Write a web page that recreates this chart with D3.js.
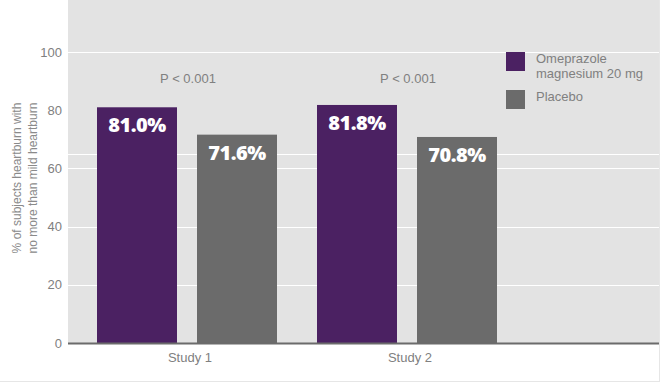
<!DOCTYPE html>
<html>
<head>
<meta charset="utf-8">
<script src="https://cdn.jsdelivr.net/npm/d3@7"></script>
<style>
  body { margin: 0; background: #fff; }
  text { font-family: "Liberation Sans", Arial, sans-serif; }
</style>
</head>
<body>
<script>
var width = 660,
    height = 383;

// data
var studies = ['Study 1', 'Study 2'];
var series = ['Omeprazole magnesium 20 mg', 'Placebo'];
var omeprazole = [81.0, 81.8];
var placebo = [71.6, 70.8];
var pValues = ['P < 0.001', 'P < 0.001'];
var yTicks = [0, 20, 40, 60, 80, 100];
var gridValues = [20, 40, 60, 65, 100];
var colors = ['#4b2162', '#6b6b6b'];

var plot = { left: 68, right: 659, top: 0, bottom: 343 };

var svg = d3.select('body')
  .append('svg')
  .attr('width', width)
  .attr('height', height);

var y = d3.scaleLinear()
  .domain([0, 100])
  .range([plot.bottom, 52]);

var x0 = d3.scaleBand()
  .domain(studies)
  .range([87, 527]);

var x1 = d3.scaleBand()
  .domain(series)
  .range([10, 190])
  .paddingInner(0.2);

// centre of the two bars inside a group
var groupMid = (x1.range()[0] + x1.range()[1]) / 2;

// panel background
svg.append('rect')
  .attr('x', plot.left)
  .attr('y', plot.top)
  .attr('width', plot.right - plot.left)
  .attr('height', plot.bottom - plot.top)
  .attr('fill', '#e3e3e3');

// outer border lines
svg.append('line')
  .attr('x1', 0).attr('x2', width)
  .attr('y1', 381.5).attr('y2', 381.5)
  .attr('stroke', '#e6e6e6');
svg.append('line')
  .attr('x1', 659.5).attr('x2', 659.5)
  .attr('y1', 0).attr('y2', 382)
  .attr('stroke', '#e6e6e6');

// gridlines
svg.selectAll('.grid')
  .data(gridValues)
  .enter().append('line')
  .attr('class', 'grid')
  .attr('x1', plot.left)
  .attr('x2', plot.right)
  .attr('y1', function(d) { return Math.round(y(d)) + 0.5; })
  .attr('y2', function(d) { return Math.round(y(d)) + 0.5; })
  .attr('stroke', '#fff');

// y axis labels
var yAxis = d3.axisLeft(y)
  .tickValues(yTicks)
  .tickSize(0)
  .tickPadding(0);

var gy = svg.append('g')
  .attr('transform', 'translate(62,0)')
  .call(yAxis);
gy.select('.domain').remove();
gy.selectAll('text')
  .attr('fill', '#808080')
  .style('font-size', '13px')
  .style('font-family', '"Liberation Sans", Arial, sans-serif');

// y axis title
var title = svg.append('text')
  .attr('transform', 'translate(21,178) rotate(-90)')
  .attr('text-anchor', 'middle')
  .attr('fill', '#8a8a8a')
  .style('font-size', '12px');
title.append('tspan').attr('x', 0).attr('dy', 0).text('% of subjects heartburn with');
title.append('tspan').attr('x', 0).attr('dy', 16).text('no more than mild heartburn');

// bars
var rows = studies.map(function(s, i) {
  return { study: s, values: [omeprazole[i], placebo[i]], p: pValues[i] };
});

var groups = svg.selectAll('.group')
  .data(rows)
  .enter().append('g')
  .attr('class', 'group')
  .attr('transform', function(d) { return 'translate(' + x0(d.study) + ',0)'; });

var bars = groups.selectAll('.bar')
  .data(function(d) {
    return d.values.map(function(v, j) { return { key: series[j], value: v, i: j }; });
  })
  .enter().append('g')
  .attr('class', 'bar');

bars.append('rect')
  .attr('x', function(d) { return x1(d.key); })
  .attr('y', function(d) { return y(d.value); })
  .attr('width', x1.bandwidth())
  .attr('height', function(d) { return plot.bottom - y(d.value); })
  .attr('fill', function(d) { return colors[d.i]; });

bars.append('text')
  .attr('x', function(d) { return x1(d.key) + x1.bandwidth() / 2; })
  .attr('y', function(d) { return y(d.value) + 25; })
  .attr('text-anchor', 'middle')
  .attr('fill', '#fff')
  .style('font-family', '"Open Sans", sans-serif')
  .style('font-weight', 800)
  .style('font-size', '20px')
  .style('letter-spacing', '-0.5px')
  .text(function(d) { return d.value.toFixed(1) + '%'; });

// p values
groups.append('text')
  .attr('x', groupMid + 1)
  .attr('y', 83)
  .attr('text-anchor', 'middle')
  .attr('fill', '#808080')
  .style('font-size', '13px')
  .text(function(d) { return d.p; });

// x axis line
svg.append('line')
  .attr('x1', plot.left)
  .attr('x2', plot.right)
  .attr('y1', plot.bottom + 0.5)
  .attr('y2', plot.bottom + 0.5)
  .attr('stroke', '#6b6b6b')
  .attr('stroke-width', 2);

// x labels
svg.selectAll('.xlabel')
  .data(studies)
  .enter().append('text')
  .attr('class', 'xlabel')
  .attr('x', function(d) { return x0(d) + groupMid + 3; })
  .attr('y', 362)
  .attr('text-anchor', 'middle')
  .attr('fill', '#808080')
  .style('font-size', '13px')
  .text(function(d) { return d; });

// legend
var legendLines = [['Omeprazole', 'magnesium 20 mg'], ['Placebo']];
var legend = svg.selectAll('.legend')
  .data(series)
  .enter().append('g')
  .attr('class', 'legend')
  .attr('transform', function(d, i) { return 'translate(506,' + (52 + i * 38) + ')'; });

legend.append('rect')
  .attr('width', 19)
  .attr('height', 19)
  .attr('fill', function(d, i) { return colors[i]; });

legend.append('text')
  .attr('fill', '#808080')
  .style('font-size', '13px')
  .each(function(d, i) {
    var t = d3.select(this);
    legendLines[i].forEach(function(line, k) {
      t.append('tspan')
        .attr('x', 30)
        .attr('y', 11 + k * 15)
        .text(line);
    });
  });
</script>
</body>
</html>
